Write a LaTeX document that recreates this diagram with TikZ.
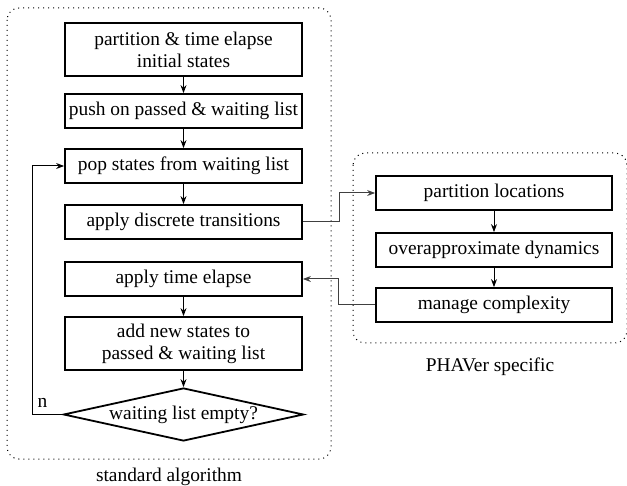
\documentclass[tikz,border=0pt]{standalone}
\usepackage{fontspec}
\setmainfont{Liberation Serif}
\usetikzlibrary{positioning, arrows.meta, shapes.geometric, calc}

\tikzset{
  algbox/.style={draw, line width=0.9pt, align=center, inner sep=1pt,
                 minimum width=118.5pt, minimum height=17pt},
  tallbox/.style={algbox, minimum height=26.5pt},
  decbox/.style={draw, line width=0.9pt, diamond, aspect=4.5, inner sep=0pt,
                 minimum width=120pt, minimum height=26.5pt},
  grpframe/.style={draw, dotted, line width=0.5pt, rounded corners=6pt},
  flow/.style={->, line width=0.5pt},
  xflow/.style={->, line width=0.5pt, black!75}
}

\begin{document}
\begin{tikzpicture}[x=0.5pt, y=-0.5pt, font=\fontsize{9.7}{11}\selectfont,
                    >={Stealth[length=4pt, width=3pt]}]
  \useasboundingbox (0,0) rectangle (627,486);

  % the two dotted groups
  \draw[grpframe] (7,8) rectangle (331,459);
  \draw[grpframe] (353,153) rectangle (627,343);
  \node (stdlbl) at (169,477) {standard algorithm};
  \node (phvlbl) at (490,367) {PHAVer specific};

  % standard algorithm
  \node[tallbox] (init) at (183.5,49.5) {partition \& time elapse\\initial states};
  \node[algbox] (push) at (183.5,111) {push on passed \& waiting list};
  \node[algbox] (pop) at (183.5,166) {pop states from waiting list};
  \node[algbox] (disc) at (183.5,222) {apply discrete transitions};
  \node[algbox] (elap) at (183.5,279) {apply time elapse};
  \node[tallbox] (add) at (183.5,343.5) {add new states to\\passed \& waiting list};
  \node[decbox] (empty) at (183.5,414.5) {waiting list empty?};

  % PHAVer specific
  \node[algbox, minimum width=118pt] (part) at (494,193) {partition locations};
  \node[algbox, minimum width=118pt] (ovap) at (494,250) {overapproximate dynamics};
  \node[algbox, minimum width=118pt] (mng) at (494,305) {manage complexity};

  \draw[flow] (init) -- (push);
  \draw[flow] (push) -- (pop);
  \draw[flow] (pop) -- (disc);
  \draw[flow] (elap) -- (add);
  \draw[flow] (add) -- (empty);
  \draw[flow] (part) -- (ovap);
  \draw[flow] (ovap) -- (mng);

  \draw[flow] (empty.west) -- node[above, pos=0.67] {n} ++(-30,0) |- (pop.west);
  \draw[xflow] (disc.east) -- ++(37,0) |- (part.west);
  \draw[xflow] (mng.west) -- ++(-37,0) |- (elap.east);
\end{tikzpicture}
\end{document}
